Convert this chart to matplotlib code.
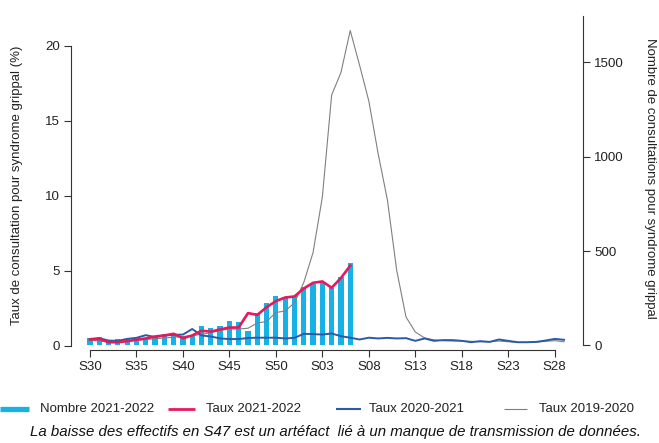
import matplotlib
matplotlib.use('Agg')
import matplotlib.pyplot as plt
from matplotlib.lines import Line2D
import numpy as np

plt.rcParams['font.family'] = ['Liberation Sans', 'DejaVu Sans']

# ---------------- data ----------------
weeks = ['S30', 'S31', 'S32', 'S33', 'S34', 'S35', 'S36', 'S37', 'S38', 'S39',
         'S40', 'S41', 'S42', 'S43', 'S44', 'S45', 'S46', 'S47', 'S48', 'S49',
         'S50', 'S51', 'S52', 'S01', 'S02', 'S03', 'S04', 'S05', 'S06', 'S07',
         'S08', 'S09', 'S10', 'S11', 'S12', 'S13', 'S14', 'S15', 'S16', 'S17',
         'S18', 'S19', 'S20', 'S21', 'S22', 'S23', 'S24', 'S25', 'S26', 'S27',
         'S28', 'S29']
tick_labels = ['S30', 'S35', 'S40', 'S45', 'S50', 'S03', 'S08', 'S13', 'S18', 'S23', 'S28']

# Nombre de consultations 2021-2022 (right axis)
nombre_2122 = [42, 44, 30, 34, 35, 39, 42, 51, 60, 57, 39, 57, 103, 92, 105, 128,
               126, 79, 170, 224, 262, 253, 263, 311, 328, 333, 303, 364, 436]

# Taux 2021-2022 (%)
taux_2122 = [0.40, 0.44, 0.22, 0.22, 0.29, 0.38, 0.47, 0.60, 0.67, 0.78, 0.49, 0.67,
             0.98, 0.93, 1.07, 1.20, 1.20, 2.16, 2.04, 2.55, 2.96, 3.20, 3.27, 3.80,
             4.18, 4.27, 3.85, 4.50, 5.32]

# Taux 2020-2021 (%)
taux_2021 = [0.44, 0.49, 0.33, 0.31, 0.44, 0.51, 0.69, 0.56, 0.67, 0.71, 0.73, 1.10,
             0.67, 0.60, 0.47, 0.43, 0.43, 0.50, 0.52, 0.52, 0.52, 0.47, 0.51, 0.78,
             0.76, 0.73, 0.80, 0.62, 0.52, 0.40, 0.52, 0.47, 0.51, 0.47, 0.49, 0.31,
             0.47, 0.31, 0.36, 0.36, 0.31, 0.22, 0.29, 0.24, 0.40, 0.31, 0.22, 0.22,
             0.24, 0.33, 0.44, 0.38]

# Taux 2019-2020 (%)
taux_1920 = [0.35, 0.30, 0.25, 0.25, 0.30, 0.35, 0.40, 0.45, 0.50, 0.55, 0.60, 0.65,
             0.75, 0.85, 1.00, 1.10, 1.10, 1.15, 1.50, 1.60, 2.20, 2.30, 2.85, 4.20,
             6.20, 9.90, 16.70, 18.20, 21.00, 18.70, 16.30, 12.80, 9.70, 5.00, 1.90,
             0.90, 0.50, 0.38, 0.32, 0.30, 0.30, 0.28, 0.25, 0.25, 0.30, 0.25, 0.20,
             0.20, 0.22, 0.28, 0.32, 0.25]

left_ticks = [0, 5, 10, 15, 20]
right_ticks = [0, 500, 1000, 1500]

legend_labels = ['Nombre 2021-2022', 'Taux 2021-2022', 'Taux 2020-2021', 'Taux 2019-2020']
caption = "La baisse des effectifs en S47 est un artéfact  lié à un manque de transmission de données."

# ---------------- style ----------------
C_CYAN = '#16B1E6'
C_PINK = '#E8185C'
C_BLUE = '#2A5BA8'
C_GRAY = '#808080'
C_AX = '#333333'
W, H = 659, 443

fig = plt.figure(figsize=(W / 100, H / 100), dpi=100)
ax = fig.add_axes([71 / W, 93 / H, (583 - 71) / W, (427 - 93) / H])
ax2 = ax.twinx()
ax.set_zorder(ax2.get_zorder() + 1)
ax.patch.set_visible(False)

x = np.arange(len(weeks))
ax2.bar(x[:len(nombre_2122)], nombre_2122, width=0.56, color=C_CYAN, linewidth=0)
ax.plot(x, taux_1920, color=C_GRAY, lw=0.8)
ax.plot(x, taux_2021, color=C_BLUE, lw=1.4)
ax.plot(x[:len(taux_2122)], taux_2122, color=C_PINK, lw=1.9, solid_joinstyle='round')

ax.set_xlim(-2.04, 53.04)
ax.set_ylim(-0.3, 21.97)
ax2.set_ylim(-23.9, 1746)

tick_pos = [weeks.index(t) for t in tick_labels]
ax.set_xticks(tick_pos)
ax.set_xticklabels(tick_labels)
ax.set_yticks(left_ticks)
ax2.set_yticks(right_ticks)

for a in (ax, ax2):
    a.tick_params(length=5, width=0.8, color=C_AX, labelsize=9.6, labelcolor='#222222', pad=3)
    for s in a.spines.values():
        s.set_color(C_AX)
        s.set_linewidth(0.8)

ax.spines['top'].set_visible(False)
ax.spines['right'].set_visible(False)
ax.spines['left'].set_bounds(0, 20)
ax.spines['bottom'].set_bounds(0, 50)
ax2.spines['top'].set_visible(False)
ax2.spines['left'].set_visible(False)
ax2.spines['bottom'].set_visible(False)
ax2.spines['right'].set_bounds(0, 1746)

fig.text(17 / W, 1 - 185 / H, 'Taux de consultation pour syndrome grippal (%)',
         rotation=90, ha='center', va='center', fontsize=9.5, color='#222222')
fig.text(650 / W, 1 - 178 / H, 'Nombre de consultations pour syndrome grippal',
         rotation=-90, ha='center', va='center', fontsize=9.5, color='#222222')

# legend (manual, below plot)
leg_y = 1 - 409 / H
handles = [((0, 29), C_CYAN, 3.8), ((168, 195), C_PINK, 2.0),
           ((336, 361), C_BLUE, 1.5), ((504, 527), C_GRAY, 0.8)]
text_x = [40, 206, 369, 539]
for (xs, col, lw), tx, lab in zip(handles, text_x, legend_labels):
    fig.add_artist(Line2D([xs[0] / W, xs[1] / W], [leg_y, leg_y], color=col, lw=lw,
                          transform=fig.transFigure, solid_capstyle='butt'))
    fig.text(tx / W, leg_y, lab, ha='left', va='center', fontsize=9.5, color='#222222')

fig.text(335 / W, 1 - 432 / H, caption, ha='center', va='center', fontsize=10.8,
         style='italic', color='#111111')

fig.savefig('out.png', dpi=100)
